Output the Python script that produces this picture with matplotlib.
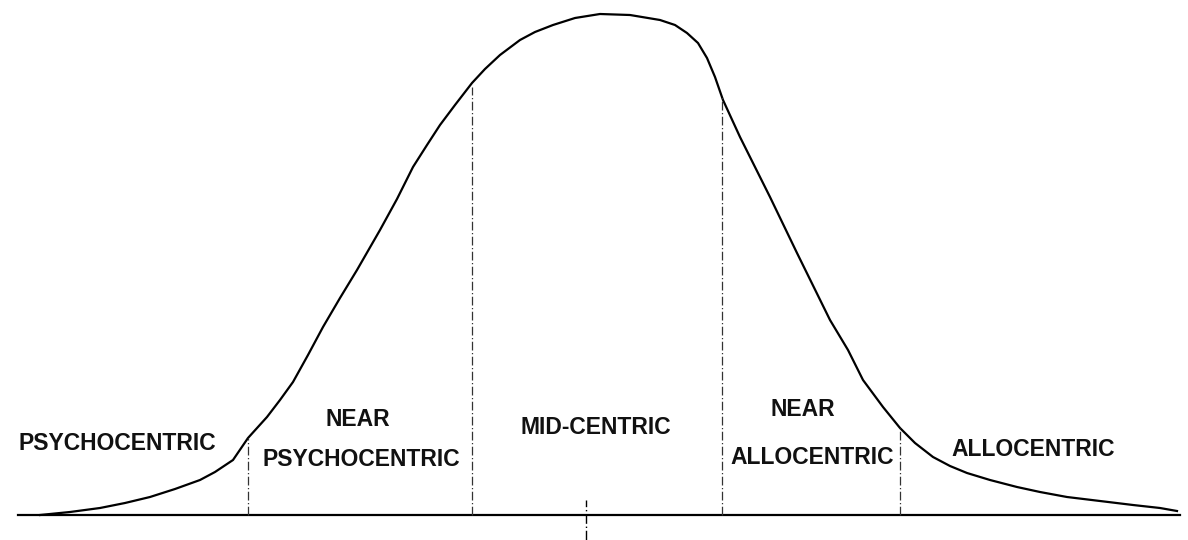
import matplotlib.pyplot as plt

plt.rcParams['font.family'] = ['Liberation Sans', 'DejaVu Sans']

# curve (x position, height above the base line)
curve_x = [40, 70, 100, 125, 150, 175, 200, 215, 233, 248, 267, 280, 293, 308, 323,
           340, 357, 380, 397, 413, 427, 440, 455, 472, 485, 500, 520, 535, 553,
           575, 600, 630, 660, 675, 687, 698, 707, 715, 723, 740, 755, 770, 797,
           830, 848, 863, 883, 900, 915, 933, 950, 967, 990, 1017, 1040, 1067,
           1100, 1133, 1160, 1177]
curve_h = [0, 3, 7, 12, 18, 26, 35, 43, 55, 77, 98, 115, 133, 160, 188,
           217, 245, 285, 316, 348, 370, 390, 410, 432, 446, 460, 475, 483, 490,
           497, 501, 500, 495, 490, 482, 472, 457, 438, 415, 378, 348, 318, 262,
           195, 165, 135, 108, 87, 72, 58, 49, 42, 35, 28, 23, 18,
           14, 10, 7, 4]

# segment boundaries and their heights
divider_x = [248, 472, 722, 900]
divider_h = [77, 428, 418, 87]
mid_x = 586

labels = [
    ("PSYCHOCENTRIC", 117, 72),
    ("NEAR", 358, 95),
    ("PSYCHOCENTRIC", 361, 55),
    ("MID-CENTRIC", 596, 87),
    ("NEAR", 803, 105),
    ("ALLOCENTRIC", 812, 58),
    ("ALLOCENTRIC", 1033, 65),
]

fig = plt.figure(figsize=(11.88, 5.4), dpi=100)
ax = fig.add_axes([0, 0, 1, 1])
ax.set_xlim(0, 1188)
ax.set_ylim(-25, 515)
ax.axis('off')

# base line
ax.plot([18, 1180], [0, 0], color='black', lw=1.6)
ax.plot(curve_x, curve_h, color='black', lw=1.6, solid_joinstyle='round')

for x, h in zip(divider_x, divider_h):
    ax.plot([x, x], [0, h], color='#333333', lw=0.9, linestyle=(0, (7, 2, 1, 2)))
ax.plot([mid_x, mid_x], [-25, 15], color='black', lw=1.0, linestyle=(0, (7, 2, 1, 2)))

for txt, x, y in labels:
    ax.text(x, y, txt, ha='center', va='center', fontsize=16.5,
            fontweight='bold', color='#111111')

fig.savefig("out.png", dpi=100)
